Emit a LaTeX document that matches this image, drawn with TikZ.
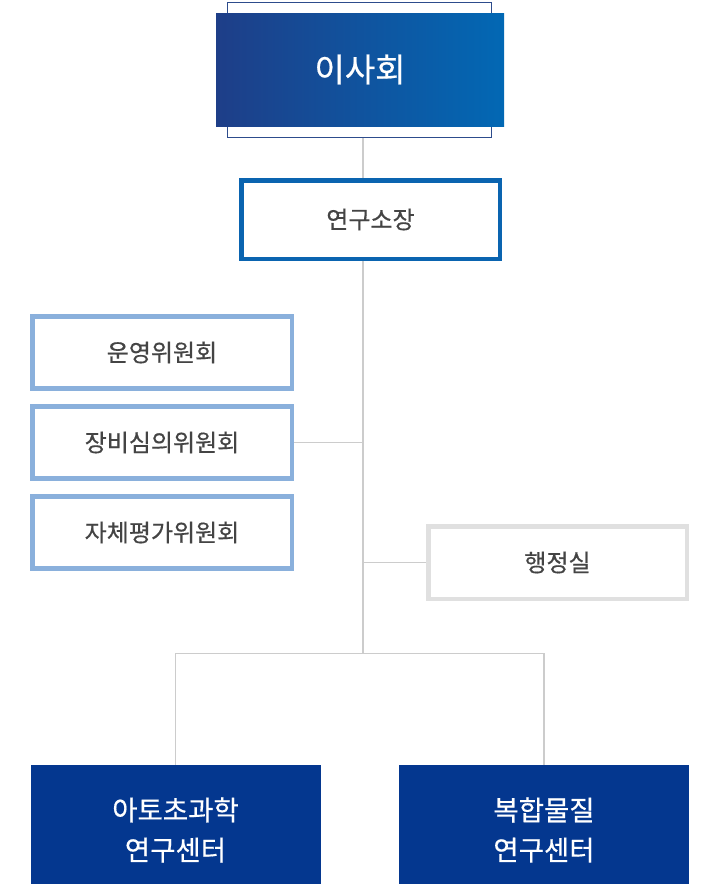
\documentclass[tikz,border=0pt]{standalone}
\usepackage{fontspec}
\setmainfont{Noto Sans CJK KR}[FakeBold=0.5,AutoFakeBold=0.5]
\begin{document}
\begin{tikzpicture}[x=1pt,y=-1pt,
  conn/.style={draw=linegray,line width=1.8pt},
  commbox/.style={draw=commblue,line width=4.5pt,fill=white,minimum width=259.5pt,minimum height=72pt,inner sep=0pt,text=txtgray,font=\fontsize{24pt}{28pt}\selectfont\bfseries},
  centerbox/.style={fill=centerblue,minimum width=290pt,minimum height=130pt,inner sep=0pt,text=white,align=center,font=\fontsize{27.5pt}{40pt}\selectfont\bfseries}]
\definecolor{linegray}{RGB}{204,204,204}
\definecolor{commblue}{RGB}{138,176,220}
\definecolor{dirblue}{RGB}{10,100,176}
\definecolor{admingray}{RGB}{224,224,224}
\definecolor{centerblue}{RGB}{4,55,143}
\definecolor{txtgray}{RGB}{68,68,68}
\definecolor{navyA}{RGB}{30,62,136}
\definecolor{blueB}{RGB}{2,104,180}
\definecolor{frameblue}{RGB}{45,76,140}
\clip (0,0) rectangle (720,884);
\fill[white] (0,0) rectangle (720,884);
% spine coordinates
\coordinate (j1) at (363,442.5);
\coordinate (j2) at (363,562.5);
\coordinate (j3) at (363,653.5);
% board
\node[draw=frameblue,line width=1pt,minimum width=264pt,minimum height=135pt,inner sep=0pt] (frame) at (359.5,70) {};
\node[left color=navyA,right color=blueB,minimum width=288pt,minimum height=113pt,inner sep=0pt,text=white,font=\fontsize{33pt}{38pt}\selectfont\bfseries] (board) at (360,69.5) {이사회};
% director
\node[draw=dirblue,line width=4.5pt,fill=white,minimum width=258.5pt,minimum height=78.5pt,inner sep=0pt,text=txtgray,font=\fontsize{24pt}{28pt}\selectfont\bfseries] (director) at (370.5,219.5) {연구소장};
% committees
\node[commbox] (c1) at (162,352.5) {운영위원회};
\node[commbox] (c2) at (162,442.5) {장비심의위원회};
\node[commbox] (c3) at (162,532.5) {자체평가위원회};
% admin
\node[draw=admingray,line width=4.5pt,fill=white,minimum width=258.5pt,minimum height=72.5pt,inner sep=0pt,text=txtgray,font=\fontsize{24pt}{28pt}\selectfont\bfseries] (admin) at (557.5,562.5) {행정실};
% centers
\node[centerbox] (atto) at (175.5,830) {아토초과학\\연구센터};
\node[centerbox] (comp) at (544,830) {복합물질\\연구센터};
% connectors
\draw[conn] (frame.south -| j1) -- (director.north -| j1);
\draw[conn] (director.south -| j1) -- (j3);
\draw[conn] (c2.east) -- (c2.east -| j1);
\draw[conn] (admin.west -| j2) -- (admin.west);
\draw[conn] (atto.north) |- (j3) -| (comp.north);
\end{tikzpicture}
\end{document}
